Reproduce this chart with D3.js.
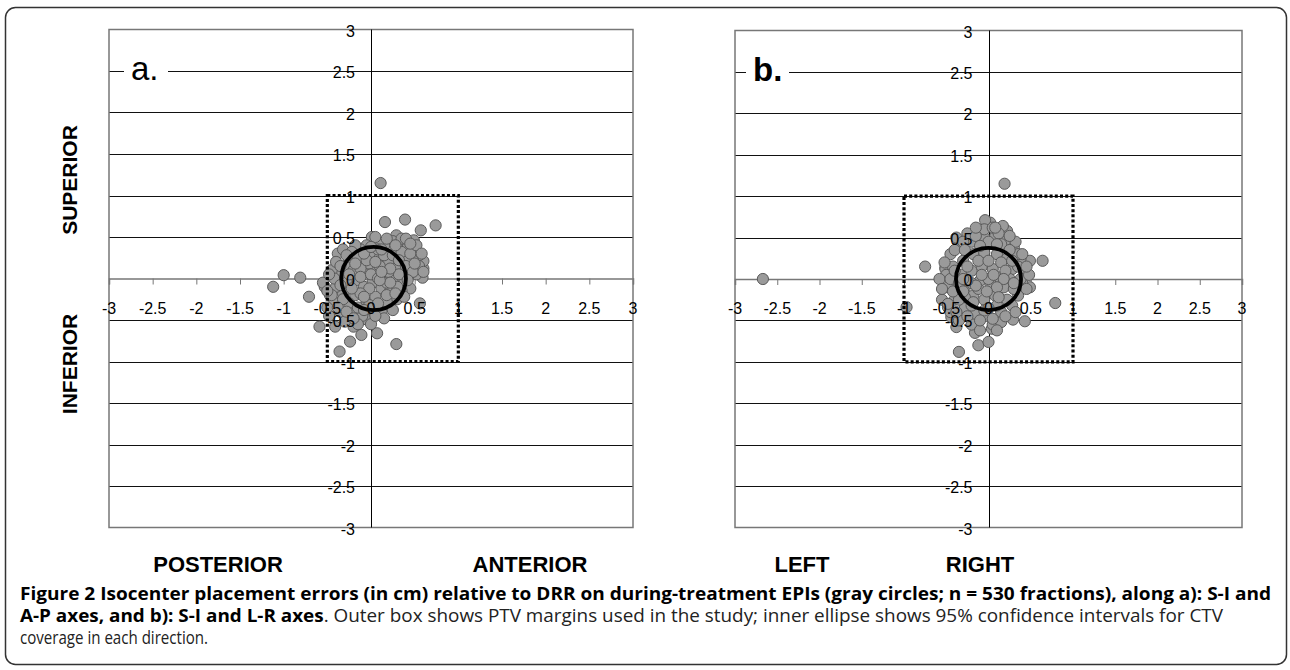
<!DOCTYPE html>
<html>
<head>
<meta charset="utf-8">
<script src="https://cdn.jsdelivr.net/npm/d3@7"></script>
<style>
  html, body { margin: 0; padding: 0; background: #fff; }
  svg { display: block; }
</style>
</head>
<body>
<div id="chart"></div>
<script>
// tick values shared by both panels (cm)
const tickValues = [-3, -2.5, -2, -1.5, -1, -0.5, 0, 0.5, 1, 1.5, 2, 2.5, 3];

// PTV margin boxes [xmin, xmax, ymin, ymax]
const boxA = [-0.5, 1, -1, 1];
const boxB = [-1, 1, -1, 1];

// 95% CI ellipses [cx, cy, rx, ry]
const ellipseA = [0.03, 0, 0.37, 0.38];
const ellipseB = [0, 0, 0.385, 0.375];

// panel a: A-P (x) vs S-I (y) errors
const pointsA = [
  [0.11, 1.15], [0.16, 0.68], [0.39, 0.71], [0.74, 0.64], [0.57, 0.58], [0.49, 0.46],
  [0.29, 0.52], [0.01, 0.50], [-1.0, 0.04], [-0.81, 0.01], [-1.12, -0.10], [-0.71, -0.22],
  [-0.59, -0.58], [-0.36, -0.88], [-0.24, -0.76], [-0.11, -0.68], [0.07, -0.66], [0.29, -0.79],
  [0.56, -0.30], [0.59, 0.01], [0.60, 0.12], [0.60, 0.21], [-0.53, -0.10], [-0.47, -0.20],
  [-0.41, -0.58], [-0.20, -0.58], [-0.06, -0.49],
  [0.25, 0.45], [0.33, 0.40], [0.42, 0.38], [0.50, 0.35], [0.55, 0.28], [0.48, 0.22],
  [0.40, 0.25], [0.30, 0.30], [0.22, 0.35], [0.15, 0.40], [0.08, 0.42], [-0.05, 0.40],
  [-0.12, 0.35], [0.55, 0.15], [0.45, 0.10], [0.35, 0.15], [0.52, 0.05], [0.38, -0.05],
  [0.45, -0.12], [-0.25, 0.25], [-0.30, 0.15], [-0.35, 0.05], [-0.28, -0.05], [-0.20, 0.10],
  [-0.10, 0.20], [0.00, 0.28], [0.10, 0.25], [0.20, 0.20], [0.28, 0.12], [0.25, 0.00],
  [0.15, 0.05], [0.05, 0.10], [-0.05, 0.05], [-0.15, -0.02], [-0.08, -0.10], [0.02, -0.05],
  [0.12, -0.12], [0.22, -0.15], [0.30, -0.25], [0.18, -0.28], [0.05, -0.22], [-0.05, -0.30],
  [-0.18, -0.20], [-0.25, -0.30], [-0.32, -0.18], [-0.40, -0.10], [-0.42, -0.28], [-0.35, -0.40],
  [-0.22, -0.42], [-0.10, -0.45], [0.02, -0.38], [0.12, -0.40], [0.25, -0.38], [-0.45, 0.10],
  [-0.38, 0.30], [-0.18, 0.40], [0.05, 0.50], [0.10, 0.15], [-0.02, 0.18], [-0.48, -0.45],
  [-0.30, -0.52], [-0.15, -0.55], [0.00, -0.55], [-0.50, -0.35], [-0.55, -0.05], [0.35, -0.15],
  [0.42, 0.02], [0.32, 0.05], [0.18, -0.05], [-0.12, 0.12], [0.08, 0.35], [0.35, 0.48],
  [-0.40, 0.20], [-0.32, 0.35], [-0.22, 0.32], [-0.15, 0.25], [-0.05, 0.22], [0.05, 0.20],
  [0.15, 0.28], [0.25, 0.28], [0.35, 0.32], [0.45, 0.30], [0.52, 0.40], [0.40, 0.48],
  [0.28, 0.40], [0.18, 0.48], [-0.08, 0.30], [-0.42, 0.00], [-0.35, -0.08], [-0.25, 0.05],
  [-0.12, 0.02], [0.00, 0.05], [0.08, 0.00], [0.20, 0.08], [0.32, 0.22], [0.40, 0.15],
  [0.48, 0.08], [0.30, -0.10], [0.22, -0.05], [0.10, -0.02], [-0.02, -0.12], [-0.12, -0.18],
  [-0.22, -0.12], [-0.32, -0.25], [-0.38, -0.35], [-0.28, -0.40], [-0.15, -0.35], [-0.02, -0.32],
  [0.08, -0.30], [0.18, -0.20], [0.28, -0.18], [0.38, -0.22], [0.15, -0.48], [0.05, -0.45],
  [-0.08, -0.38], [-0.20, -0.48], [-0.45, -0.20], [-0.50, -0.15], [-0.35, 0.15], [-0.28, 0.28],
  [0.00, 0.38], [0.12, 0.35], [0.22, 0.12], [0.12, 0.08], [-0.18, 0.18], [-0.08, -0.22],
  [0.42, -0.02], [0.50, 0.18], [0.58, 0.30], [0.45, 0.42], [-0.48, 0.05], [0.60, 0.08]
];

// panel b: L-R (x) vs S-I (y) errors
const pointsB = [
  [0.19, 1.15], [0.79, -0.29], [0.64, 0.22], [0.49, 0.22], [0.43, -0.51], [0.29, -0.49],
  [-0.35, -0.88], [-0.16, -0.65], [-0.12, -0.80], [0.00, -0.76], [0.04, -0.60], [-0.75, 0.15],
  [0.02, 0.68], [-0.04, 0.71], [0.22, 0.58], [0.17, 0.64], [-0.51, 0.14], [0.49, -0.10],
  [-0.97, -0.34], [-0.51, 0.12], [-2.67, 0.00], [-0.48, -0.34], [-0.44, -0.46], [-0.38, -0.58],
  [-0.45, 0.30], [-0.35, 0.40], [-0.20, 0.45], [-0.05, 0.50], [0.08, 0.52], [0.20, 0.45],
  [0.30, 0.38], [0.38, 0.25], [0.42, 0.10], [0.40, -0.05], [0.35, -0.20], [0.28, -0.32],
  [0.15, -0.40], [0.00, -0.45], [-0.15, -0.42], [-0.28, -0.35], [-0.40, -0.25], [-0.48, -0.10],
  [-0.50, 0.05], [-0.42, 0.15], [-0.30, 0.22], [-0.18, 0.30], [-0.05, 0.32], [0.10, 0.30],
  [0.22, 0.25], [0.28, 0.12], [0.25, 0.00], [0.18, -0.10], [0.08, -0.20], [-0.05, -0.25],
  [-0.18, -0.20], [-0.28, -0.10], [-0.32, 0.05], [-0.20, 0.10], [-0.08, 0.15], [0.05, 0.12],
  [0.12, 0.02], [0.02, -0.05], [-0.10, -0.02], [-0.20, -0.05], [-0.12, -0.12], [0.00, 0.00],
  [-0.05, 0.60], [0.05, 0.62], [0.12, 0.55], [-0.25, 0.55], [-0.38, 0.50], [-0.45, -0.40],
  [-0.35, -0.50], [-0.20, -0.55], [0.05, -0.55], [0.15, -0.52], [-0.55, -0.25], [-0.58, 0.00],
  [0.35, 0.30], [0.45, -0.12], [-0.10, -0.62], [0.10, -0.62], [0.32, 0.45], [-0.28, -0.22],
  [-0.40, 0.35], [-0.30, 0.45], [-0.15, 0.52], [0.00, 0.45], [0.15, 0.42], [0.25, 0.35],
  [0.35, 0.15], [0.38, 0.00], [0.30, -0.12], [0.22, -0.25], [0.10, -0.32], [-0.05, -0.38],
  [-0.20, -0.32], [-0.35, -0.25], [-0.42, -0.15], [-0.45, 0.00], [-0.40, 0.10], [-0.25, 0.15],
  [-0.12, 0.22], [0.00, 0.22], [0.15, 0.20], [0.20, 0.10], [0.18, 0.00], [0.10, -0.10],
  [-0.02, -0.15], [-0.15, -0.08], [-0.25, -0.02], [-0.35, -0.05], [-0.38, -0.40], [-0.25, -0.45],
  [-0.10, -0.50], [0.05, -0.48], [0.20, -0.45], [0.32, -0.40], [0.40, 0.30], [0.25, 0.52],
  [0.10, 0.42], [-0.10, 0.40], [-0.28, 0.35], [-0.52, 0.20], [-0.55, -0.12], [0.48, 0.05],
  [0.45, 0.15], [-0.08, 0.05], [0.06, 0.05], [-0.30, -0.15], [0.28, 0.22], [-0.18, -0.28],
  [0.30, -0.05], [-0.48, -0.30], [0.00, -0.35], [0.12, -0.22], [-0.30, 0.00], [0.08, 0.62],
  [-0.15, 0.62]
];

const panelLetters = ["a.", "b."];
const sideLabels = ["SUPERIOR", "INFERIOR"];
const bottomLabelsA = ["POSTERIOR", "ANTERIOR"];
const bottomLabelsB = ["LEFT", "RIGHT"];

const width = 1290, height = 670;
const svg = d3.select("#chart").append("svg")
  .attr("width", width)
  .attr("height", height);

// outer figure frame
svg.append("rect")
  .attr("x", 5.5).attr("y", 7.5)
  .attr("width", 1281).attr("height", 657)
  .attr("rx", 10)
  .style("fill", "none")
  .style("stroke", "#333")
  .style("stroke-width", 1.5);

function drawPanel(cfg) {
  const x = d3.scaleLinear().domain([-3, 3]).range([cfg.left, cfg.right]);
  const y = d3.scaleLinear().domain([-3, 3]).range([cfg.bottom, cfg.top]);
  const g = svg.append("g");

  // horizontal gridlines
  g.selectAll(".grid")
    .data(tickValues.filter(d => d !== 0 && Math.abs(d) !== 3))
    .join("line")
    .attr("x1", cfg.left).attr("x2", cfg.right)
    .attr("y1", d => Math.round(y(d)) + 0.5).attr("y2", d => Math.round(y(d)) + 0.5)
    .style("stroke", "#111").style("stroke-width", 1);

  // plot border
  g.append("rect")
    .attr("x", cfg.left).attr("y", cfg.top)
    .attr("width", cfg.right - cfg.left).attr("height", cfg.bottom - cfg.top)
    .style("fill", "none").style("stroke", "#777").style("stroke-width", 1.5);

  // vertical axis at x = 0
  g.append("line")
    .attr("x1", Math.round(x(0)) + 0.5).attr("x2", Math.round(x(0)) + 0.5)
    .attr("y1", cfg.top).attr("y2", cfg.bottom)
    .style("stroke", "#000").style("stroke-width", 1);

  // horizontal axis at y = 0 with small ticks
  const xAxis = d3.axisBottom(x).tickValues(tickValues).tickSize(6).tickFormat("");
  const ax = g.append("g")
    .attr("transform", `translate(0,${y(0)})`)
    .call(xAxis);
  ax.select(".domain").style("stroke", "#777").style("stroke-width", 1.5);
  ax.selectAll(".tick line").style("stroke", "#777");

  // panel letter sitting on the 2.5 gridline
  const lx = cfg.left + cfg.letterOffset;
  g.append("rect")
    .attr("x", lx - 7).attr("y", y(2.5) - 3)
    .attr("width", cfg.letterGap).attr("height", 6)
    .style("fill", "#fff");
  g.append("text")
    .attr("x", lx).attr("y", y(2.5) + 9)
    .style("font-family", "Liberation Sans, Arial, sans-serif")
    .style("font-size", "33px")
    .style("font-weight", cfg.letterBold ? "bold" : "normal")
    .text(cfg.letter);

  // data points
  g.selectAll(".pt")
    .data(cfg.points)
    .join("circle")
    .attr("cx", d => x(d[0]))
    .attr("cy", d => y(d[1]))
    .attr("r", 5.6)
    .style("fill", "#9a9a9a")
    .style("stroke", "#5a5a5a")
    .style("stroke-width", 1);

  // 95% CI ellipse
  const [ecx, ecy, erx, ery] = cfg.ellipse;
  g.append("ellipse")
    .attr("cx", x(ecx)).attr("cy", y(ecy))
    .attr("rx", x(erx) - x(0)).attr("ry", y(0) - y(ery))
    .style("fill", "none").style("stroke", "#000").style("stroke-width", 3.8);

  // PTV margin box
  const [bx0, bx1, by0, by1] = cfg.box;
  g.append("rect")
    .attr("x", x(bx0)).attr("y", y(by1))
    .attr("width", x(bx1) - x(bx0)).attr("height", y(by0) - y(by1))
    .style("fill", "none").style("stroke", "#000")
    .style("stroke-width", 3.2).style("stroke-dasharray", "3,2.2");

  const tickFont = "Liberation Sans, Arial, sans-serif";
  // x tick labels
  g.selectAll(".xl")
    .data(tickValues)
    .join("text")
    .attr("x", d => x(d))
    .attr("y", y(0) + 35)
    .attr("text-anchor", "middle")
    .style("font-family", tickFont).style("font-size", "16px")
    .text(d => d);

  // y tick labels
  g.selectAll(".yl")
    .data(tickValues)
    .join("text")
    .attr("x", x(0) - 16)
    .attr("y", d => y(d) + 7)
    .attr("text-anchor", "end")
    .style("font-family", tickFont).style("font-size", "16px")
    .text(d => d);

  // direction labels below the plot
  g.selectAll(".bl")
    .data(cfg.bottomLabels)
    .join("text")
    .attr("x", (d, i) => cfg.bottomX[i])
    .attr("y", 572)
    .attr("text-anchor", "middle")
    .style("font-family", tickFont).style("font-size", "22px").style("font-weight", "bold")
    .text(d => d);
}

drawPanel({
  left: 109, right: 633, top: 29.5, bottom: 527.5,
  points: pointsA, box: boxA, ellipse: ellipseA,
  letter: panelLetters[0], letterBold: false, letterOffset: 22, letterGap: 44,
  bottomLabels: bottomLabelsA, bottomX: [218, 530]
});

drawPanel({
  left: 735, right: 1242, top: 30.5, bottom: 527.5,
  points: pointsB, box: boxB, ellipse: ellipseB,
  letter: panelLetters[1], letterBold: true, letterOffset: 18, letterGap: 43,
  bottomLabels: bottomLabelsB, bottomX: [802, 980]
});

// rotated S-I labels
[180, 364].forEach((cy, i) => {
  svg.append("text")
    .attr("transform", `translate(77,${cy}) rotate(-90)`)
    .attr("text-anchor", "middle")
    .style("font-family", "Liberation Sans, Arial, sans-serif")
    .style("font-size", "21px").style("font-weight", "bold")
    .text(sideLabels[i]);
});

// caption
const capFont = "Open Sans, Noto Sans, sans-serif";
const cap = svg.append("g")
  .style("font-family", capFont)
  .style("font-size", "17.5px");

cap.append("text")
  .attr("x", 20).attr("y", 600)
  .attr("textLength", 1251).attr("lengthAdjust", "spacingAndGlyphs")
  .style("font-weight", "bold").style("fill", "#000")
  .text("Figure 2 Isocenter placement errors (in cm) relative to DRR on during-treatment EPIs (gray circles; n = 530 fractions), along a): S-I and");

const line2 = cap.append("text")
  .attr("x", 20).attr("y", 622)
  .attr("textLength", 1203).attr("lengthAdjust", "spacingAndGlyphs");
line2.append("tspan").style("font-weight", "bold").style("fill", "#000")
  .text("A-P axes, and b): S-I and L-R axes");
line2.append("tspan").style("fill", "#222")
  .text(". Outer box shows PTV margins used in the study; inner ellipse shows 95% confidence intervals for CTV");

cap.append("text")
  .attr("x", 20).attr("y", 644)
  .attr("textLength", 188).attr("lengthAdjust", "spacingAndGlyphs")
  .style("fill", "#222")
  .text("coverage in each direction.");
</script>
</body>
</html>
